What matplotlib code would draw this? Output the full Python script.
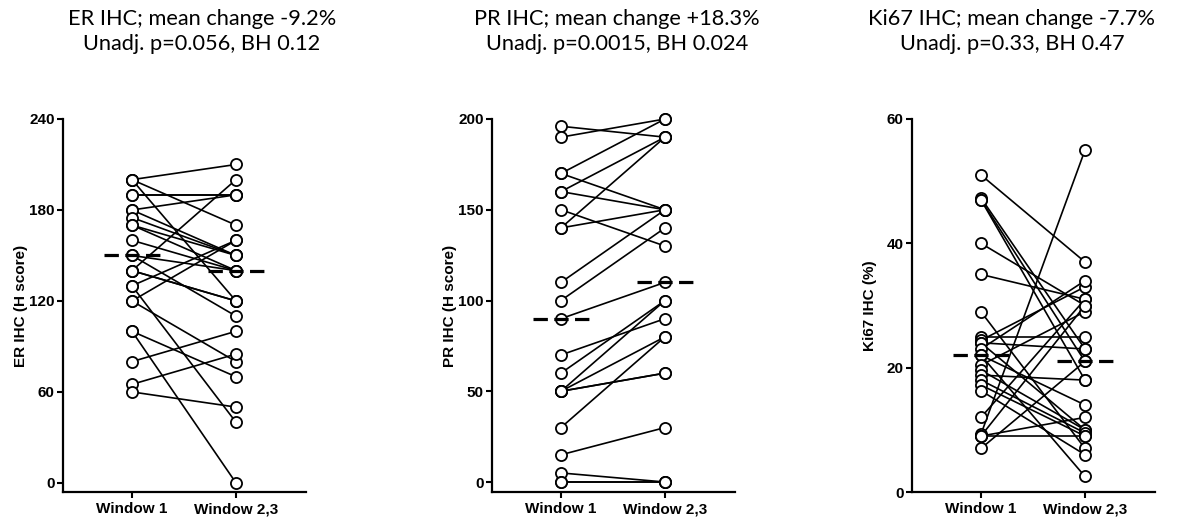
import matplotlib
matplotlib.use("Agg")
import matplotlib.pyplot as plt
import numpy as np

plt.rcParams['font.family'] = ['Liberation Sans', 'DejaVu Sans']

# paired scores per patient: window 1 -> window 2,3
er_w1 = [200, 200, 200, 190, 190, 180, 180, 175, 170, 170, 160, 150, 150,
         140, 140, 140, 130, 130, 120, 120, 100, 100, 80, 65, 60]
er_w2 = [210, 170, 120, 190, 190, 190, 150, 150, 150, 140, 140, 140, 110,
         200, 120, 120, 160, 40, 160, 80, 70, 0, 100, 85, 50]

pr_w1 = [196, 190, 170, 170, 160, 160, 150, 140, 140, 110, 100, 90, 70,
         60, 50, 50, 50, 50, 30, 15, 5, 0, 0]
pr_w2 = [190, 200, 200, 150, 190, 150, 130, 190, 150, 150, 140, 110, 90,
         100, 100, 80, 60, 60, 80, 30, 0, 0, 0]

ki_w1 = [51, 47.3, 47, 47, 40, 35, 29, 25, 24.4, 24, 24, 23, 22, 22,
         20.4, 19.6, 18.8, 18, 17.2, 16.3, 12, 9.3, 9, 9, 9, 7]
ki_w2 = [37, 23, 21, 18, 30, 31, 7, 25, 33, 23, 10, 34, 2.5, 14,
         29, 10, 18, 9.5, 9, 6, 31, 55, 12, 9, 30, 21]

groups = ['Window 1', 'Window 2,3']
titles = ['ER IHC; mean change -9.2%\nUnadj. p=0.056, BH 0.12',
          'PR IHC; mean change +18.3%\nUnadj. p=0.0015, BH 0.024',
          'Ki67 IHC; mean change -7.7%\nUnadj. p=0.33, BH 0.47']
ylabels = ['ER IHC (H score)', 'PR IHC (H score)', 'Ki67 IHC (%)']
yticks = [[0, 60, 120, 180, 240], [0, 50, 100, 150, 200], [0, 20, 40, 60]]
ylims = [(-6, 240), (-5.5, 200), (0, 60)]

W, H = 1178, 520
fig = plt.figure(figsize=(W / 100, H / 100), dpi=100)

lefts = [63, 492, 912]
title_x = [202, 617, 1012]
data = [(er_w1, er_w2), (pr_w1, pr_w2), (ki_w1, ki_w2)]

for i, (w1, w2) in enumerate(data):
    ax = fig.add_axes([lefts[i] / W, 28 / H, 243 / W, 373 / H])
    for a, b in zip(w1, w2):
        ax.plot([1, 2], [a, b], color='black', lw=1.2, zorder=2)
    ax.plot(np.ones(len(w1)), w1, 'o', mfc='white', mec='black', ms=8,
            mew=1.3, zorder=3, clip_on=False)
    ax.plot(np.full(len(w2), 2), w2, 'o', mfc='white', mec='black', ms=8,
            mew=1.3, zorder=3, clip_on=False)

    # median bars
    for x, vals in ((1, w1), (2, w2)):
        m = np.median(vals)
        ax.plot([x - 0.27, x + 0.27], [m, m], color='black', lw=2.3,
                ls=(0, (4.5, 2)), zorder=4)

    ax.set_xlim(0.337, 2.673)
    ax.set_ylim(*ylims[i])
    ax.set_yticks(yticks[i])
    ax.set_xticks([1, 2], groups)
    for sp in ('top', 'right'):
        ax.spines[sp].set_visible(False)
    for sp in ('left', 'bottom'):
        ax.spines[sp].set_linewidth(1.6)
    ax.tick_params(direction='out', length=4, width=1.5, labelsize=11)
    ax.tick_params(axis='y', pad=2)
    for lab in ax.get_xticklabels() + ax.get_yticklabels():
        lab.set_fontweight('bold')
    ax.set_ylabel(ylabels[i], fontsize=11, fontweight='bold')
    ax.yaxis.set_label_coords(-35 / 243, 0.5)

    fig.text(title_x[i] / W, 1 - 9 / H, titles[i], ha='center', va='top',
             fontsize=15.7, family=['Lato', 'DejaVu Sans'], linespacing=1.3)

fig.savefig('out.png', dpi=100)
